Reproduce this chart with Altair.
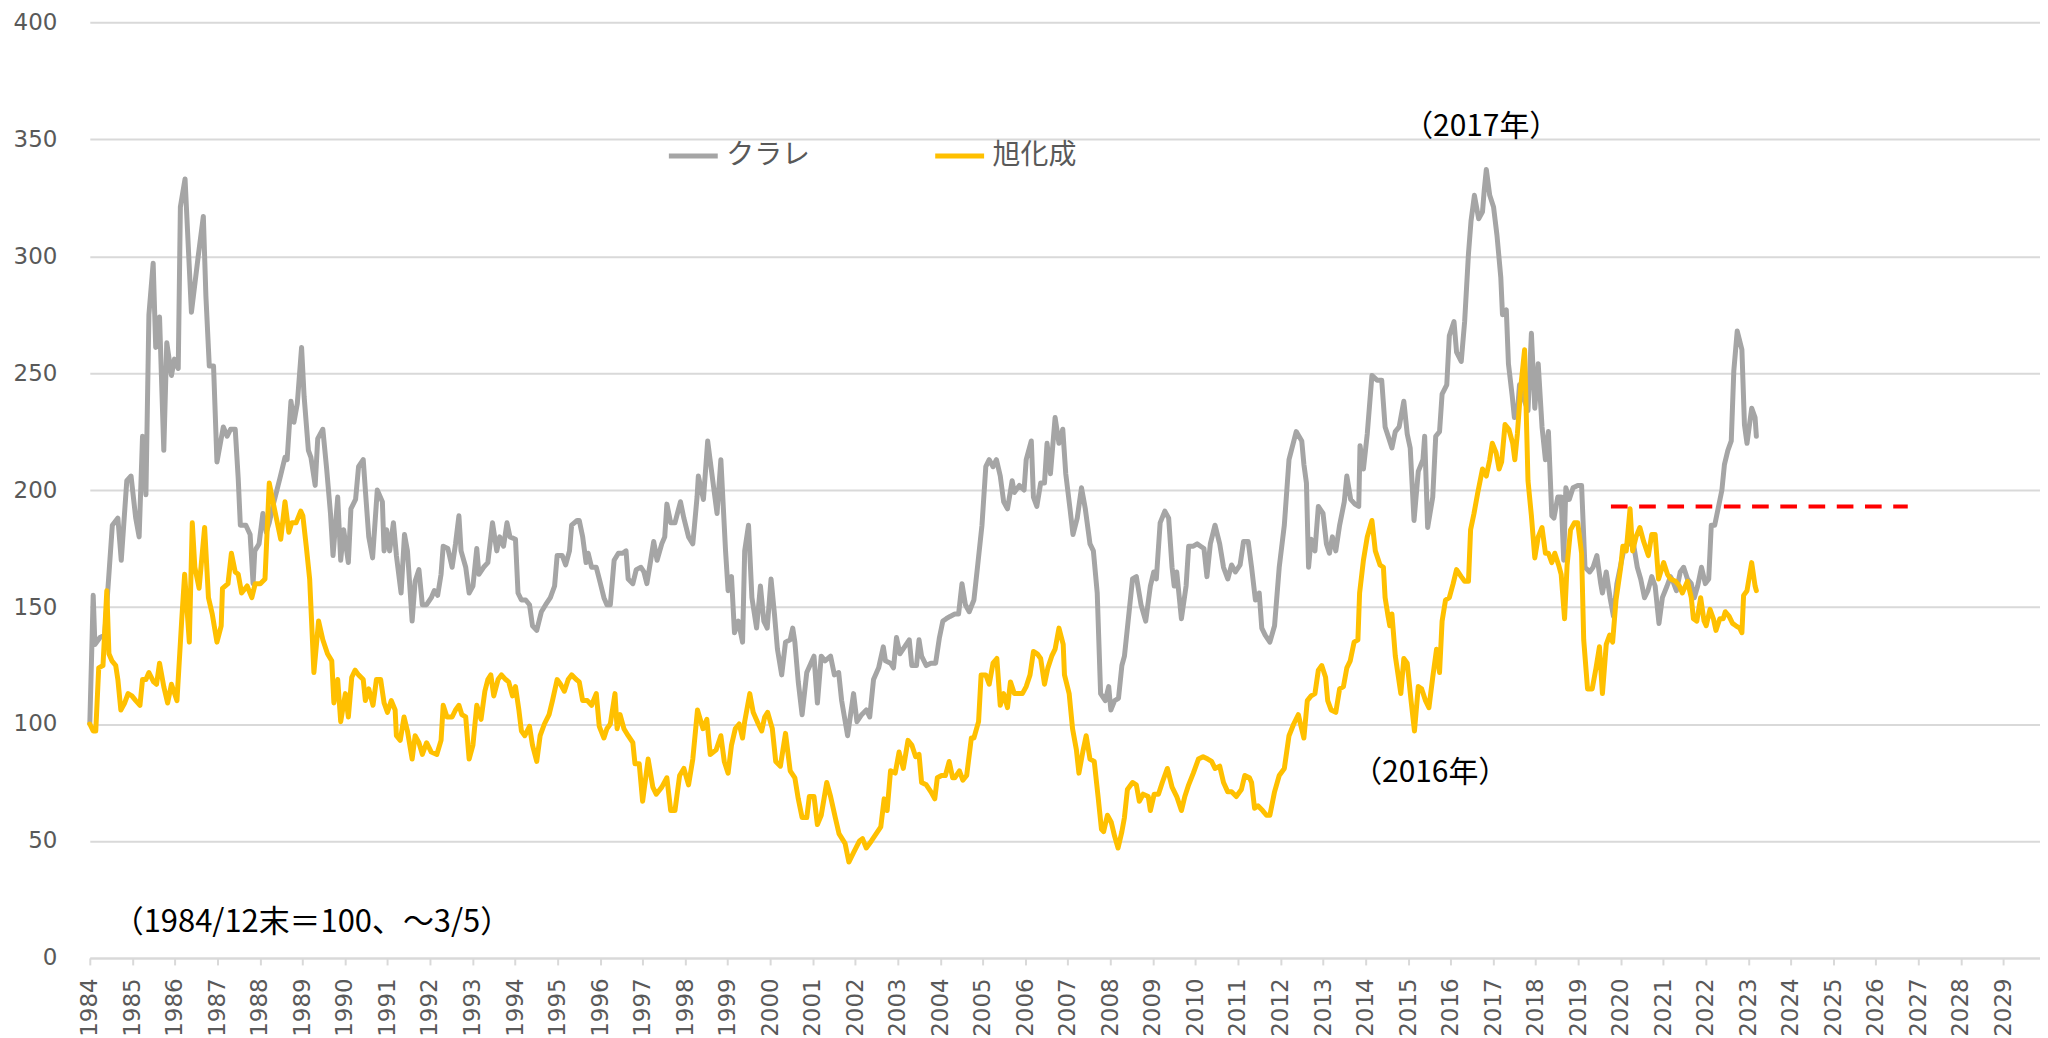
import altair as alt
import pandas as pd

# ---------------- data ----------------
series_names = ["クラレ", "旭化成"]
series_colors = ["#A5A5A5", "#FFC000"]

kuraray_year = [1984.00,1984.08,1984.12,1984.24,1984.35,1984.53,1984.66,1984.74,1984.87,1984.97,1985.08,1985.16,1985.24,1985.32,1985.39,1985.49,1985.55,1985.64,1985.74,1985.81,1985.92,1985.99,1986.08,1986.13,1986.24,1986.39,1986.55,1986.67,1986.73,1986.81,1986.91,1986.99,1987.14,1987.23,1987.31,1987.42,1987.49,1987.54,1987.67,1987.77,1987.84,1987.88,1987.98,1988.07,1988.15,1988.22,1988.33,1988.47,1988.59,1988.64,1988.73,1988.80,1988.88,1988.98,1989.04,1989.14,1989.20,1989.30,1989.36,1989.48,1989.57,1989.66,1989.72,1989.83,1989.90,1989.97,1990.08,1990.14,1990.25,1990.32,1990.43,1990.48,1990.56,1990.65,1990.76,1990.88,1990.92,1990.98,1991.05,1991.14,1991.21,1991.32,1991.40,1991.47,1991.58,1991.65,1991.74,1991.82,1991.92,1992.03,1992.10,1992.18,1992.26,1992.31,1992.42,1992.52,1992.60,1992.68,1992.73,1992.84,1992.92,1993.01,1993.10,1993.15,1993.26,1993.36,1993.47,1993.57,1993.64,1993.73,1993.81,1993.88,1994.01,1994.07,1994.15,1994.25,1994.34,1994.41,1994.51,1994.62,1994.72,1994.83,1994.93,1994.99,1995.11,1995.19,1995.28,1995.33,1995.46,1995.51,1995.59,1995.67,1995.72,1995.80,1995.91,1995.98,1996.09,1996.16,1996.24,1996.33,1996.43,1996.53,1996.61,1996.66,1996.77,1996.85,1996.96,1997.03,1997.10,1997.19,1997.26,1997.34,1997.45,1997.52,1997.57,1997.66,1997.76,1997.89,1997.97,1998.08,1998.18,1998.28,1998.31,1998.43,1998.53,1998.65,1998.75,1998.84,1998.95,1999.01,1999.09,1999.16,1999.25,1999.35,1999.40,1999.49,1999.57,1999.68,1999.77,1999.85,1999.93,2000.02,2000.10,2000.17,2000.27,2000.36,2000.47,2000.53,2000.58,2000.66,2000.75,2000.86,2001.03,2001.11,2001.20,2001.29,2001.42,2001.51,2001.61,2001.68,2001.82,2001.96,2002.04,2002.15,2002.26,2002.34,2002.43,2002.55,2002.66,2002.71,2002.83,2002.90,2002.97,2003.05,2003.16,2003.27,2003.33,2003.44,2003.50,2003.56,2003.67,2003.78,2003.89,2003.98,2004.06,2004.14,2004.23,2004.34,2004.43,2004.51,2004.59,2004.68,2004.79,2004.88,2004.98,2005.07,2005.15,2005.24,2005.32,2005.41,2005.49,2005.58,2005.69,2005.74,2005.86,2005.97,2006.02,2006.14,2006.19,2006.27,2006.36,2006.45,2006.51,2006.59,2006.70,2006.79,2006.88,2006.95,2007.05,2007.12,2007.22,2007.32,2007.41,2007.52,2007.60,2007.69,2007.77,2007.88,2007.96,2008.01,2008.10,2008.19,2008.27,2008.33,2008.44,2008.52,2008.61,2008.72,2008.83,2008.94,2009.02,2009.08,2009.17,2009.28,2009.37,2009.45,2009.50,2009.56,2009.67,2009.78,2009.84,2009.95,2010.04,2010.12,2010.20,2010.27,2010.35,2010.46,2010.57,2010.66,2010.76,2010.85,2010.94,2011.05,2011.13,2011.24,2011.32,2011.41,2011.50,2011.56,2011.64,2011.75,2011.86,2011.97,2012.09,2012.20,2012.37,2012.50,2012.55,2012.61,2012.66,2012.72,2012.81,2012.89,2013.00,2013.08,2013.15,2013.22,2013.30,2013.39,2013.50,2013.56,2013.65,2013.75,2013.84,2013.87,2013.95,2014.04,2014.15,2014.27,2014.38,2014.46,2014.55,2014.62,2014.70,2014.79,2014.90,2014.98,2015.05,2015.14,2015.24,2015.35,2015.39,2015.46,2015.58,2015.65,2015.74,2015.80,2015.91,2015.97,2016.08,2016.14,2016.25,2016.33,2016.42,2016.48,2016.56,2016.66,2016.75,2016.79,2016.84,2016.92,2017.01,2017.09,2017.18,2017.22,2017.31,2017.36,2017.45,2017.50,2017.57,2017.62,2017.74,2017.82,2017.90,2017.98,2018.06,2018.15,2018.23,2018.30,2018.38,2018.43,2018.52,2018.60,2018.66,2018.71,2018.79,2018.88,2018.99,2019.08,2019.16,2019.27,2019.35,2019.44,2019.53,2019.57,2019.66,2019.75,2019.83,2019.91,2020.00,2020.09,2020.20,2020.30,2020.39,2020.47,2020.56,2020.64,2020.73,2020.81,2020.90,2020.98,2021.09,2021.17,2021.23,2021.31,2021.40,2021.48,2021.57,2021.66,2021.73,2021.81,2021.90,2021.99,2022.07,2022.13,2022.21,2022.29,2022.38,2022.44,2022.52,2022.60,2022.66,2022.74,2022.85,2022.91,2022.97,2023.08,2023.16,2023.19]
kuraray_value = [100,155,134,137,138,185,188,170,204,206,188,180,223,198,275,297,261,274,217,263,249,256,252,321,333,276,300,317,283,253,253,212,227,223,226,226,205,185,185,181,160,174,177,190,182,186,195,205,214,213,238,229,237,261,240,217,214,202,222,226,209,190,172,197,170,183,169,192,196,210,213,200,180,171,200,195,174,183,174,186,172,156,181,174,144,161,166,151,151,154,157,155,164,176,175,167,177,189,174,167,156,159,175,164,167,169,186,174,180,176,186,180,179,156,153,153,151,142,140,148,151,154,159,172,172,168,174,185,187,187,180,169,173,167,167,162,154,151,151,170,173,173,174,162,160,166,167,165,160,170,178,170,177,180,194,186,186,195,188,180,177,197,206,196,221,204,190,213,174,157,163,139,144,135,174,185,154,141,159,144,141,162,147,132,121,135,136,141,135,118,104,122,129,109,129,127,129,121,122,110,95,113,101,104,106,103,119,124,133,127,126,124,137,130,133,136,125,125,136,129,125,126,126,137,144,145,146,147,147,160,151,148,153,168,185,210,213,210,213,206,195,192,204,199,202,200,213,221,197,193,203,203,220,207,231,220,226,207,192,181,188,201,192,177,174,156,113,110,116,106,110,111,125,129,148,162,163,151,144,159,165,162,186,191,188,167,159,165,145,159,176,176,177,176,175,163,177,185,177,167,162,168,165,168,178,178,167,153,156,141,138,135,142,167,185,213,225,221,211,203,167,179,174,193,190,177,173,180,174,185,195,206,196,194,193,219,209,224,249,247,247,227,222,218,225,227,238,224,218,187,208,213,223,184,197,223,225,241,245,266,272,259,255,272,301,315,326,316,319,328,337,326,321,309,291,275,277,254,240,231,233,245,238,234,267,235,254,227,213,225,189,188,197,197,170,201,196,201,202,202,167,165,167,172,160,156,165,154,146,160,168,176,177,177,167,162,154,157,163,159,143,154,159,163,161,157,165,167,162,160,154,159,167,160,162,185,185,192,200,211,217,221,251,268,260,228,220,235,231,223]

asahi_year = [1984.00,1984.08,1984.14,1984.21,1984.31,1984.40,1984.45,1984.52,1984.61,1984.66,1984.73,1984.82,1984.90,1984.99,1985.08,1985.18,1985.24,1985.32,1985.39,1985.50,1985.57,1985.64,1985.74,1985.83,1985.92,1986.05,1986.16,1986.23,1986.34,1986.41,1986.47,1986.57,1986.70,1986.79,1986.88,1986.99,1987.09,1987.12,1987.25,1987.33,1987.42,1987.49,1987.57,1987.70,1987.81,1987.89,1988.01,1988.12,1988.22,1988.33,1988.49,1988.59,1988.68,1988.75,1988.85,1988.96,1989.01,1989.09,1989.17,1989.27,1989.38,1989.48,1989.59,1989.69,1989.74,1989.83,1989.90,1990.01,1990.08,1990.16,1990.24,1990.32,1990.43,1990.48,1990.56,1990.66,1990.74,1990.84,1990.92,1991.00,1991.09,1991.18,1991.21,1991.30,1991.39,1991.47,1991.58,1991.65,1991.74,1991.82,1991.92,1992.03,1992.16,1992.26,1992.31,1992.40,1992.52,1992.60,1992.68,1992.75,1992.84,1992.92,1993.01,1993.10,1993.20,1993.29,1993.36,1993.43,1993.50,1993.60,1993.68,1993.78,1993.85,1993.94,1994.01,1994.09,1994.15,1994.23,1994.34,1994.41,1994.51,1994.59,1994.69,1994.80,1994.88,1994.99,1995.07,1995.16,1995.25,1995.33,1995.44,1995.51,1995.59,1995.70,1995.80,1995.91,1995.98,1996.09,1996.16,1996.24,1996.35,1996.40,1996.47,1996.56,1996.66,1996.77,1996.82,1996.92,1997.00,1997.13,1997.24,1997.32,1997.45,1997.57,1997.66,1997.76,1997.87,1997.97,1998.08,1998.18,1998.29,1998.42,1998.51,1998.59,1998.73,1998.84,1998.92,1999.01,1999.09,1999.18,1999.27,1999.35,1999.40,1999.52,1999.60,1999.72,1999.80,1999.87,1999.94,2000.05,2000.13,2000.24,2000.36,2000.47,2000.58,2000.66,2000.75,2000.86,2000.92,2001.03,2001.11,2001.20,2001.33,2001.42,2001.53,2001.62,2001.76,2001.85,2001.96,2002.10,2002.17,2002.26,2002.38,2002.49,2002.60,2002.68,2002.75,2002.83,2002.94,2003.03,2003.13,2003.24,2003.33,2003.42,2003.50,2003.56,2003.67,2003.78,2003.87,2003.93,2004.03,2004.12,2004.21,2004.29,2004.34,2004.45,2004.53,2004.62,2004.73,2004.79,2004.90,2004.96,2005.07,2005.15,2005.24,2005.33,2005.41,2005.49,2005.58,2005.65,2005.74,2005.86,2005.93,2006.02,2006.11,2006.19,2006.28,2006.36,2006.45,2006.53,2006.62,2006.70,2006.79,2006.89,2006.92,2007.03,2007.11,2007.20,2007.26,2007.35,2007.43,2007.52,2007.62,2007.71,2007.79,2007.84,2007.93,2008.02,2008.10,2008.18,2008.27,2008.33,2008.40,2008.52,2008.61,2008.68,2008.77,2008.89,2008.94,2009.03,2009.13,2009.22,2009.34,2009.45,2009.56,2009.67,2009.75,2009.84,2009.95,2010.07,2010.18,2010.29,2010.38,2010.46,2010.57,2010.66,2010.76,2010.85,2010.96,2011.08,2011.16,2011.27,2011.32,2011.39,2011.47,2011.58,2011.67,2011.75,2011.86,2011.97,2012.09,2012.20,2012.31,2012.42,2012.47,2012.55,2012.63,2012.72,2012.81,2012.89,2012.97,2013.06,2013.11,2013.19,2013.30,2013.39,2013.48,2013.56,2013.64,2013.73,2013.82,2013.86,2013.95,2014.04,2014.15,2014.23,2014.34,2014.42,2014.46,2014.53,2014.57,2014.62,2014.70,2014.83,2014.90,2014.98,2015.07,2015.15,2015.24,2015.32,2015.41,2015.49,2015.58,2015.67,2015.74,2015.80,2015.88,2015.97,2016.06,2016.14,2016.25,2016.33,2016.42,2016.47,2016.55,2016.64,2016.75,2016.84,2016.92,2016.98,2017.07,2017.14,2017.20,2017.28,2017.37,2017.46,2017.51,2017.57,2017.65,2017.74,2017.82,2017.90,2017.98,2018.06,2018.15,2018.23,2018.30,2018.38,2018.45,2018.54,2018.60,2018.68,2018.74,2018.82,2018.91,2018.99,2019.08,2019.13,2019.22,2019.33,2019.42,2019.50,2019.57,2019.66,2019.74,2019.81,2019.89,2020.00,2020.05,2020.13,2020.22,2020.28,2020.36,2020.45,2020.54,2020.65,2020.73,2020.81,2020.89,2021.01,2021.10,2021.17,2021.29,2021.38,2021.45,2021.57,2021.66,2021.71,2021.79,2021.88,2021.96,2022.01,2022.10,2022.18,2022.24,2022.33,2022.41,2022.46,2022.55,2022.63,2022.71,2022.80,2022.85,2022.89,2022.97,2023.08,2023.16,2023.19]
asahi_value = [100,97,97,124,125,157,130,127,125,119,106,109,113,112,110,108,119,119,122,118,117,126,116,109,117,110,144,164,135,186,167,158,184,154,147,135,142,158,160,173,165,164,156,159,154,160,160,162,203,193,179,195,182,186,186,191,189,176,162,122,144,136,130,127,109,119,101,113,103,120,123,121,119,110,115,108,119,119,109,105,110,106,95,93,103,97,85,95,92,87,92,88,87,93,108,103,103,106,108,104,103,85,91,108,102,114,119,121,112,119,121,119,118,112,116,106,97,95,99,91,84,95,100,104,110,119,117,114,119,121,119,118,110,110,108,113,99,94,98,100,113,98,104,98,95,92,83,83,67,85,73,70,73,77,63,63,78,81,74,85,106,98,102,87,89,95,84,79,91,98,100,94,101,113,105,100,97,103,105,98,84,82,96,80,77,68,60,60,69,69,57,61,75,69,60,53,49,41,45,50,51,47,50,53,56,68,63,80,79,88,81,93,91,86,87,75,74,71,68,77,78,78,84,77,77,80,76,78,94,94,101,121,121,117,126,128,108,113,107,118,113,113,113,116,121,131,130,128,117,124,129,132,141,134,121,113,98,89,79,88,95,85,84,69,55,54,61,58,52,47,54,60,72,75,74,67,70,69,63,70,70,75,81,73,69,63,69,74,79,85,86,85,84,81,82,75,71,71,69,72,78,77,75,64,65,63,61,61,71,78,81,95,100,104,100,94,110,112,113,123,125,120,110,106,105,115,116,124,127,135,136,156,170,180,187,174,168,167,154,146,142,147,129,113,128,126,110,97,116,115,110,107,120,132,122,144,153,154,160,166,163,161,161,183,190,199,209,206,213,220,216,209,212,228,226,220,213,224,244,260,204,189,171,180,184,173,173,169,173,168,164,145,168,183,186,186,173,136,115,115,124,133,113,134,138,135,153,167,176,174,192,174,180,184,178,172,181,181,162,169,164,162,161,159,156,161,154,145,144,154,144,142,149,145,140,145,145,148,146,143,142,141,139,155,157,169,159,157]

# dashed reference level (red) and text notes
target_start = [2019.77]
target_end = [2026.75]
target_level = [193]

note_center_text = ["（2017年）", "（2016年）"]
note_center_year = [2016.72, 2015.52]
note_center_value = [355, 79]

note_left_text = ["（1984/12末＝100、～3/5）"]
note_left_year = [1984.54]
note_left_value = [15]

year_ticks = list(range(1984, 2030))
value_ticks = list(range(0, 401, 50))

# ---------------- tables ----------------
lines_df = pd.DataFrame({
    "year": kuraray_year + asahi_year,
    "value": kuraray_value + asahi_value,
    "series": [series_names[0]] * len(kuraray_year) + [series_names[1]] * len(asahi_year),
})
target_df = pd.DataFrame({"year": target_start, "year_end": target_end, "value": target_level})
center_df = pd.DataFrame({"year": note_center_year, "value": note_center_value, "label": note_center_text})
left_df = pd.DataFrame({"year": note_left_year, "value": note_left_value, "label": note_left_text})

x_scale = alt.Scale(domain=[1984, 2029.86], nice=False, zero=False)
y_scale = alt.Scale(domain=[0, 400], nice=False, zero=True)

x_axis = alt.Axis(
    values=year_ticks, format="d", labelAngle=270, labelFont="DejaVu Sans",
    labelFontSize=23, labelColor="#595959", labelPadding=13, labelFlush=False,
    labelOverlap=False, tickColor="#D9D9D9", tickWidth=2, tickSize=7,
    domainColor="#D9D9D9", domainWidth=2, grid=False, title=None,
)
y_axis = alt.Axis(
    values=value_ticks, labelFont="DejaVu Sans", labelFontSize=23,
    labelColor="#595959", labelPadding=33, ticks=False, tickSize=0,
    domain=False, grid=True, gridColor="#D9D9D9", gridWidth=2, title=None,
)

color_enc = alt.Color(
    "series:N",
    scale=alt.Scale(domain=series_names, range=series_colors),
    legend=alt.Legend(
        orient="none", legendX=578, legendY=107, direction="horizontal",
        title=None, symbolType="stroke", symbolStrokeWidth=5, symbolSize=2401,
        labelFont="Noto Sans CJK JP", labelFontSize=28, labelColor="#595959",
        labelOffset=6, columnPadding=114, padding=0,
    ),
)

def line_layer(name):
    return (
        alt.Chart(lines_df)
        .transform_filter(alt.datum.series == name)
        .mark_line(strokeWidth=5, strokeJoin="round", strokeCap="round")
        .encode(
            x=alt.X("year:Q", scale=x_scale, axis=x_axis, title=None),
            y=alt.Y("value:Q", scale=y_scale, axis=y_axis, title=None),
            color=color_enc,
        )
    )

gray_line = line_layer(series_names[0])
yellow_line = line_layer(series_names[1])

target_rule = alt.Chart(target_df).mark_rule(
    color="#FF0000", strokeWidth=4, strokeDash=[16.7, 11.6]
).encode(
    x=alt.X("year:Q", scale=x_scale, title=None),
    x2="year_end:Q",
    y=alt.Y("value:Q", scale=y_scale, title=None),
)

center_text = alt.Chart(center_df).mark_text(
    font="Noto Sans CJK JP", fontSize=30, color="#000000", align="center", baseline="middle"
).encode(
    x=alt.X("year:Q", scale=x_scale, title=None),
    y=alt.Y("value:Q", scale=y_scale, title=None),
    text="label:N",
)

left_text = alt.Chart(left_df).mark_text(
    font="Noto Sans CJK JP", fontSize=31, color="#000000", align="left", baseline="middle"
).encode(
    x=alt.X("year:Q", scale=x_scale, title=None),
    y=alt.Y("value:Q", scale=y_scale, title=None),
    text="label:N",
)

chart = (
    alt.layer(gray_line, yellow_line, target_rule, center_text, left_text)
    .properties(
        width=1955, height=938,
        padding={"left": 82, "top": 13, "right": 0, "bottom": 80},
        autosize=alt.AutoSizeParams(type="none"),
        background="#FFFFFF",
    )
    .configure_view(stroke=None)
)

chart.save("out.html", embed_options={"renderer": "svg", "actions": False})
